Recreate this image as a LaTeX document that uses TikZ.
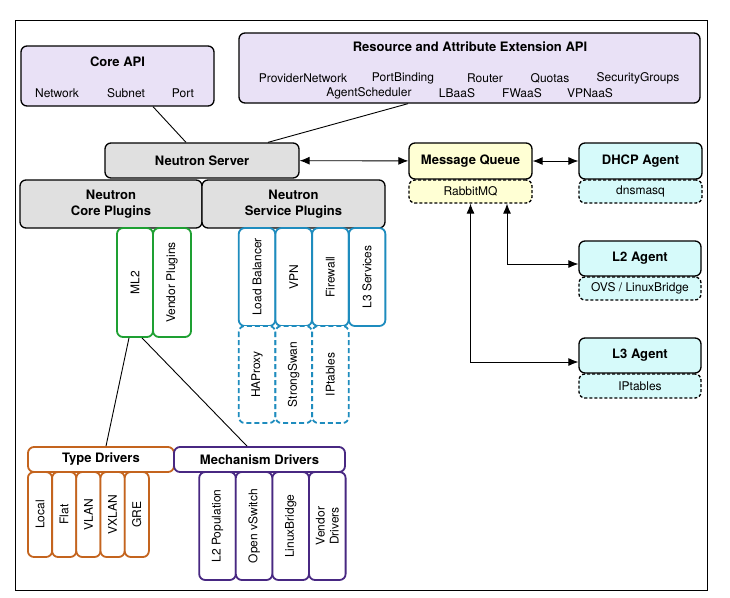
\documentclass[tikz,border=0pt]{standalone}
\usepackage{fontspec}
\setmainfont{TeX Gyre Heros}
\usepackage{tikz}
\usetikzlibrary{arrows.meta}
\usetikzlibrary{positioning}
\definecolor{lav}{RGB}{233, 225, 246}
\definecolor{gry}{RGB}{224, 224, 224}
\definecolor{yel}{RGB}{255, 255, 212}
\definecolor{cya}{RGB}{214, 250, 250}
\definecolor{grn}{RGB}{30, 160, 50}
\definecolor{blu}{RGB}{30, 140, 190}
\definecolor{org}{RGB}{196, 100, 30}
\definecolor{pur}{RGB}{72, 40, 130}

\begin{document}
\begin{tikzpicture}[x=1pt,y=-1pt,
    box/.style={draw,rounded corners=6pt,line width=1.3pt,inner sep=0pt},
    dbox/.style={box,dash pattern=on 3pt off 2pt},
    vbox/.style={box,fill=white,rotate=90,line width=1.8pt,align=center,
      font=\fontsize{12}{14}\selectfont},
    title/.style={font=\fontsize{13}{16}\selectfont\bfseries,align=center},
    item/.style={font=\fontsize{12}{14}\selectfont},
    arr/.style={line width=0.9pt,>={Latex[length=10pt,width=8pt]},<->}]
  \useasboundingbox (0,0) rectangle (730,597);
  \fill[white] (0,0) rectangle (730,597);
  \draw[line width=0.8pt] (15,20) rectangle (707,590);

  % APIs
  \node[box,fill=lav,minimum width=193,minimum height=60] (core) at (117.5,76) {};
  \node[title] (core-t) at (117.5,62) {Core API};
  \foreach \x/\t [count=\i] in {57/Network,126/Subnet,183/Port}
    \node[item] (core-\i) at (\x,93) {\t};
  \node[box,fill=lav,minimum width=461,minimum height=70] (ext) at (469.5,68) {};
  \node[title] (ext-t) at (470,47) {Resource and Attribute Extension API};
  \foreach \x/\t [count=\i] in {303/ProviderNetwork,403/PortBinding,485/Router,550/Quotas,638/SecurityGroups}
    \node[item] (ext-a-\i) at (\x,78) {\t};
  \foreach \x/\t [count=\i] in {369/AgentScheduler,457/LBaaS,522/FWaaS,590/VPNaaS}
    \node[item] (ext-b-\i) at (\x,93) {\t};

  % server and plugins
  \node[box,fill=gry,title,minimum width=194,minimum height=35] (server) at (202,160.5) {Neutron Server};
  \node[box,fill=gry,title,minimum width=182,minimum height=48] (cplug) at (111,204) {Neutron\\Core Plugins};
  \node[box,fill=gry,title,minimum width=183,minimum height=48] (splug) at (293.5,204) {Neutron\\Service Plugins};
  \node[vbox,draw=grn,minimum width=109,minimum height=36] (ml2) at (135,282.5) {ML2};
  \node[vbox,draw=grn,minimum width=109,minimum height=38] (vplug) at (172,282.5) {Vendor Plugins};
  \foreach \t [count=\i] in {Load Balancer,VPN,Firewall,L3 Services}
    \node[vbox,draw=blu,minimum width=98,minimum height=36.5] (sp-\i) at (257+36.7*\i-36.7,277) {\t};
  \foreach \t [count=\i] in {HAProxy,StrongSwan,IPtables}
    \node[vbox,draw=blu,dash pattern=on 5pt off 3pt,minimum width=97,minimum height=36.5] (sd-\i) at (257+36.7*\i-36.7,374.5) {\t};

  % drivers
  \node[box,draw=org,line width=1.8pt,fill=white,title,minimum width=146,minimum height=25] (type) at (101,459.5) {Type Drivers};
  \node[box,draw=pur,line width=1.8pt,fill=white,title,minimum width=171,minimum height=25] (mech) at (259.5,459.5) {Mechanism Drivers};
  \foreach \t [count=\i] in {Local,Flat,VLAN,VXLAN,GRE}
    \node[vbox,draw=org,minimum width=85,minimum height=24.2] (td-\i) at (40+24.2*\i-24.2,514.5) {\t};
  \foreach \t [count=\i] in {L2 Population,Open vSwitch,LinuxBridge,{Vendor\\Drivers}}
    \node[vbox,draw=pur,minimum width=108,minimum height=36.6] (md-\i) at (217.5+36.6*\i-36.6,526) {\t};

  % queue and agents
  \node[box,fill=yel,title,minimum width=123,minimum height=36] (mq) at (470.5,161) {Message Queue};
  \node[dbox,fill=yel,item,minimum width=123,minimum height=23] (rabbit) at (470.5,191.5) {RabbitMQ};
  \node[box,fill=cya,title,minimum width=123,minimum height=36] (dhcp) at (640.5,161) {DHCP Agent};
  \node[dbox,fill=cya,item,minimum width=123,minimum height=23] (dns) at (640.5,191.5) {dnsmasq};
  \node[box,fill=cya,title,minimum width=122,minimum height=35] (l2) at (640,258.5) {L2 Agent};
  \node[dbox,fill=cya,item,minimum width=122,minimum height=23] (ovs) at (640,288.5) {OVS / LinuxBridge};
  \node[box,fill=cya,title,minimum width=122,minimum height=35] (l3) at (640,355.5) {L3 Agent};
  \node[dbox,fill=cya,item,minimum width=122,minimum height=24] (ipt) at (640,386) {IPtables};

  % connectors
  \draw[line width=0.9pt] ([xshift=35.5pt]core.south) -- ([xshift=-16pt]server.north);
  \draw[line width=0.9pt] ([xshift=-61.5pt]ext.south) -- ([xshift=66pt]server.north);
  \draw[line width=0.9pt] ([xshift=-6pt]ml2.west) -- ([xshift=5pt]type.north);
  \draw[line width=0.9pt] ([xshift=7pt]ml2.west) -- ([xshift=-12.5pt]mech.north);
  \draw[arr] (server) -- (mq);
  \draw[arr] (mq) -- (dhcp);
  \draw[arr] ([xshift=36.5pt]rabbit.south) |- ([yshift=-5.5pt]l2.west);
  \draw[arr] (rabbit.south) |- ([yshift=-6.5pt]l3.west);
\end{tikzpicture}
\end{document}
